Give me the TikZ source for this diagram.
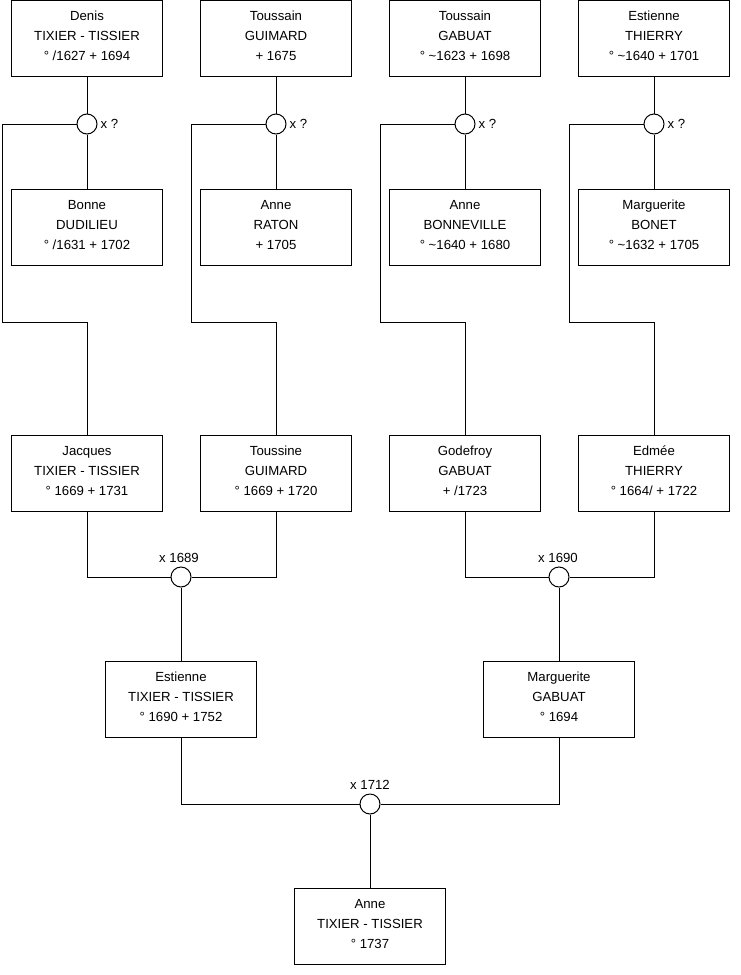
\documentclass[tikz,border=0pt]{standalone}
\usepackage{fontspec}
\setmainfont{Liberation Sans}
\newcommand\pline[1]{\rule[-7.85pt]{0pt}{20pt}#1}
\begin{document}
\begin{tikzpicture}[x=1pt,y=-1pt,
  person/.style={draw=black, line width=1pt, minimum width=151pt, minimum height=76pt,
    inner sep=0pt, align=center, font=\fontsize{13.2}{20}\selectfont},
  union/.style={draw=black, line width=1pt, circle, minimum size=20pt, inner sep=0pt, fill=white},
  lab/.style={font=\fontsize{13.2}{16}\selectfont, inner sep=0pt},
  link/.style={line width=1pt, draw=black}]
\useasboundingbox (0,0) rectangle (740,975);

% row 1
\node[person] (a1) at (87,38) {\pline{Denis}\\\pline{TIXIER - TISSIER}\\\pline{° /1627 + 1694}};
\node[person] (a2) at (276,38) {\pline{Toussain}\\\pline{GUIMARD}\\\pline{+ 1675}};
\node[person] (a3) at (465,38) {\pline{Toussain}\\\pline{GABUAT}\\\pline{° \textasciitilde1623 + 1698}};
\node[person] (a4) at (654,38) {\pline{Estienne}\\\pline{THIERRY}\\\pline{° \textasciitilde1640 + 1701}};
% row 2
\node[person] (b1) at (87,227) {\pline{Bonne}\\\pline{DUDILIEU}\\\pline{° /1631 + 1702}};
\node[person] (b2) at (276,227) {\pline{Anne}\\\pline{RATON}\\\pline{+ 1705}};
\node[person] (b3) at (465,227) {\pline{Anne}\\\pline{BONNEVILLE}\\\pline{° \textasciitilde1640 + 1680}};
\node[person] (b4) at (654,227) {\pline{Marguerite}\\\pline{BONET}\\\pline{° \textasciitilde1632 + 1705}};
% row 3
\node[person] (c1) at (87,473) {\pline{Jacques}\\\pline{TIXIER - TISSIER}\\\pline{° 1669 + 1731}};
\node[person] (c2) at (276,473) {\pline{Toussine}\\\pline{GUIMARD}\\\pline{° 1669 + 1720}};
\node[person] (c3) at (465,473) {\pline{Godefroy}\\\pline{GABUAT}\\\pline{+ /1723}};
\node[person] (c4) at (654,473) {\pline{Edmée}\\\pline{THIERRY}\\\pline{° 1664/ + 1722}};
% row 4
\node[person] (d1) at (181,699) {\pline{Estienne}\\\pline{TIXIER - TISSIER}\\\pline{° 1690 + 1752}};
\node[person] (d2) at (559,699) {\pline{Marguerite}\\\pline{GABUAT}\\\pline{° 1694}};
% row 5
\node[person] (e1) at (370,926) {\pline{Anne}\\\pline{TIXIER - TISSIER}\\\pline{° 1737}};

% unions
\node[union] (u1) at (87,124) {};
\node[union] (u2) at (276,124) {};
\node[union] (u3) at (465,124) {};
\node[union] (u4) at (654,124) {};
\node[union] (m1) at (181,577) {};
\node[union] (m2) at (559,577) {};
\node[union] (m3) at (370,804) {};

\node[lab, anchor=west, xshift=3pt] (lu1) at (u1.east) {x ?};
\node[lab, anchor=west, xshift=3pt] (lu2) at (u2.east) {x ?};
\node[lab, anchor=west, xshift=3pt] (lu3) at (u3.east) {x ?};
\node[lab, anchor=west, xshift=3pt] (lu4) at (u4.east) {x ?};
\node[lab, anchor=base, yshift=4pt, xshift=-2pt] (lm1) at (m1.north) {x 1689};
\node[lab, anchor=base, yshift=4pt, xshift=-1pt] (lm2) at (m2.north) {x 1690};
\node[lab, anchor=base, yshift=4pt] (lm3) at (m3.north) {x 1712};

% bend coordinates
\coordinate (k1) at (2,322);
\coordinate (k2) at (191,322);
\coordinate (k3) at (380,322);
\coordinate (k4) at (569,322);

\foreach \i in {1,2,3,4}{
  \draw[link] (a\i.south) -- (u\i.north);
  \draw[link] (u\i.south) -- (b\i.north);
  \draw[link] (u\i.west) -| (k\i) -| (c\i.north);
}
\draw[link] (c1.south) |- (m1.west);
\draw[link] (m1.east) -| (c2.south);
\draw[link] (m1.south) -- (d1.north);
\draw[link] (c3.south) |- (m2.west);
\draw[link] (m2.east) -| (c4.south);
\draw[link] (m2.south) -- (d2.north);
\draw[link] (d1.south) |- (m3.west);
\draw[link] (m3.east) -| (d2.south);
\draw[link] (m3.south) -- (e1.north);
\end{tikzpicture}
\end{document}
